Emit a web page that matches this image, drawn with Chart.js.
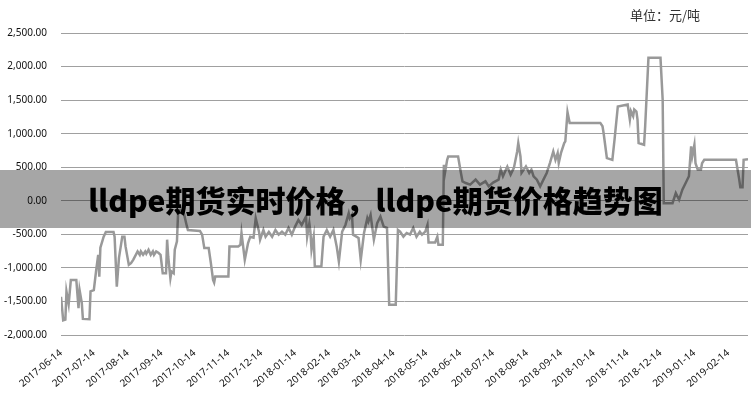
<!DOCTYPE html>
<html>
<head>
<meta charset="utf-8">
<script src="https://cdn.jsdelivr.net/npm/chart.js@4/dist/chart.umd.min.js"></script>
<style>
  body { margin: 0; background: #fff; }
  #wrap { position: relative; width: 751px; height: 400px; }
  #unit { position: absolute; left: 630px; top: 5px; font: 13px "Noto Sans CJK SC", sans-serif; color: #333; }
  #banner {
    position: absolute; left: 0; top: 170px; width: 751px; height: 58px;
    background: rgba(0, 0, 0, 0.35);
    font: 900 30px "Noto Sans CJK SC", sans-serif; color: #000;
    text-align: center; line-height: 58px;
  }
</style>
</head>
<body>
<div id="wrap">
  <canvas id="priceChart" width="751" height="400"></canvas>
  <div id="unit">单位：元/吨</div>
  <div id="banner">lldpe期货实时价格，lldpe期货价格趋势图</div>
</div>
<script>
// 日期 / 价差（元/吨）
const dates = [
  '2017-06-14','2017-06-16','2017-06-18','2017-06-19','2017-06-21','2017-06-23','2017-06-28','2017-06-30',
  '2017-07-01','2017-07-03','2017-07-04','2017-07-10','2017-07-11','2017-07-14','2017-07-16','2017-07-18',
  '2017-07-19','2017-07-20','2017-07-23','2017-07-25','2017-08-01','2017-08-02','2017-08-04','2017-08-06',
  '2017-08-09','2017-08-11','2017-08-12','2017-08-15','2017-08-17','2017-08-19','2017-08-23','2017-08-25',
  '2017-08-26','2017-08-28','2017-08-30','2017-08-31','2017-09-02','2017-09-04','2017-09-06','2017-09-07',
  '2017-09-09','2017-09-11','2017-09-13','2017-09-15','2017-09-18','2017-09-19','2017-09-20','2017-09-22',
  '2017-09-23','2017-09-25','2017-09-26','2017-09-28','2017-09-29','2017-10-01','2017-10-04','2017-10-07',
  '2017-10-08','2017-10-19','2017-10-21','2017-10-23','2017-10-27','2017-10-29','2017-10-31','2017-11-01',
  '2017-11-02','2017-11-14','2017-11-15','2017-11-23','2017-11-25','2017-11-26','2017-11-29','2017-12-02',
  '2017-12-04','2017-12-07','2017-12-09','2017-12-12','2017-12-13','2017-12-16','2017-12-18','2017-12-21',
  '2017-12-24','2017-12-27','2017-12-30','2018-01-02','2018-01-05','2018-01-08','2018-01-11','2018-01-14',
  '2018-01-17','2018-01-20','2018-01-24','2018-01-25','2018-01-27','2018-01-28','2018-01-29','2018-01-31',
  '2018-02-01','2018-02-07','2018-02-09','2018-02-12','2018-02-15','2018-02-18','2018-02-21','2018-02-23',
  '2018-02-26','2018-03-01','2018-03-04','2018-03-05','2018-03-07','2018-03-08','2018-03-13','2018-03-15',
  '2018-03-18','2018-03-21','2018-03-22','2018-03-24','2018-03-27','2018-03-30','2018-04-02','2018-04-05',
  '2018-04-08','2018-04-10','2018-04-16','2018-04-18','2018-04-20','2018-04-23','2018-04-26','2018-04-29',
  '2018-05-02','2018-05-05','2018-05-08','2018-05-10','2018-05-13','2018-05-15','2018-05-16','2018-05-22',
  '2018-05-24','2018-05-25','2018-05-29','2018-05-30','2018-05-31','2018-06-02','2018-06-03','2018-06-12',
  '2018-06-14','2018-06-16','2018-06-19','2018-06-23','2018-06-28','2018-07-02','2018-07-07','2018-07-10',
  '2018-07-14','2018-07-19','2018-07-21','2018-07-23','2018-07-27','2018-07-30','2018-08-02','2018-08-05',
  '2018-08-06','2018-08-08','2018-08-09','2018-08-13','2018-08-16','2018-08-18','2018-08-20','2018-08-23',
  '2018-08-26','2018-08-29','2018-09-01','2018-09-04','2018-09-07','2018-09-09','2018-09-11','2018-09-12',
  '2018-09-14','2018-09-17','2018-09-18','2018-09-20','2018-09-22','2018-10-20','2018-10-22','2018-10-23',
  '2018-10-25','2018-10-26','2018-10-31','2018-11-02','2018-11-05','2018-11-14','2018-11-16','2018-11-17',
  '2018-11-19','2018-11-20','2018-11-22','2018-11-23','2018-11-24','2018-11-29','2018-11-30','2018-12-03',
  '2018-12-14','2018-12-16','2018-12-17','2018-12-25','2018-12-28','2018-12-31','2019-01-03','2019-01-06',
  '2019-01-09','2019-01-11','2019-01-12','2019-01-14','2019-01-15','2019-01-17','2019-01-20','2019-01-21',
  '2019-01-23','2019-02-21','2019-02-22','2019-02-24','2019-02-25','2019-02-27','2019-02-28','2019-03-04'
];
const spread = [
  -1430,-1780,-1770,-1350,-1540,-1180,-1180,-1600,
  -1330,-1520,-1760,-1765,-1350,-1330,-1055,-805,
  -1130,-700,-535,-465,-465,-535,-1280,-850,
  -535,-535,-680,-955,-930,-880,-755,-805,
  -755,-805,-755,-790,-730,-805,-755,-805,
  -755,-775,-805,-1080,-1080,-580,-830,-1155,
  -1055,-1080,-730,-605,-185,-135,-165,-375,
  -435,-450,-505,-705,-705,-930,-1180,-1220,
  -1130,-1130,-680,-680,-655,-480,-880,-630,
  -535,-550,-260,-460,-580,-435,-535,-465,
  -535,-435,-505,-460,-505,-405,-505,-385,
  -285,-360,-235,-535,-335,-460,-730,-535,
  -980,-980,-535,-435,-535,-435,-680,-905,
  -460,-360,-185,-260,-210,-505,-555,-880,
  -480,-260,-310,-210,-580,-335,-235,-385,
  -405,-1550,-1550,-435,-460,-535,-480,-505,
  -405,-535,-460,-505,-460,-360,-620,-620,
  -535,-655,-655,535,415,610,660,660,
  465,290,265,240,315,240,290,215,
  270,315,465,365,510,390,490,735,
  860,660,415,510,415,465,365,315,
  215,315,415,565,735,610,710,565,
  710,860,885,1320,1160,1160,1110,1010,
  760,635,610,910,1405,1435,1210,1335,
  1260,1360,1330,1210,860,835,1110,2130,
  2130,1505,-35,-35,115,15,165,265,
  365,810,660,835,560,465,465,560,
  610,610,510,315,200,200,610,620
];
const tickDates = [
  '2017-06-14','2017-07-14','2017-08-14','2017-09-14','2017-10-14','2017-11-14','2017-12-14',
  '2018-01-14','2018-02-14','2018-03-14','2018-04-14','2018-05-14','2018-06-14','2018-07-14',
  '2018-08-14','2018-09-14','2018-10-14','2018-11-14','2018-12-14','2019-01-14','2019-02-14'
];
const yMin = -2000, yMax = 2500, yStep = 500;

new Chart(document.getElementById('priceChart'), {
    type: 'line',
    data: {
        datasets: [{
            data: dates.map((d, i) => ({ x: Date.parse(d), y: spread[i] })),
            borderColor: '#999999',
            borderWidth: 2.5,
            pointRadius: 0,
            tension: 0,
            fill: false
        }]
    },
    options: {
        responsive: false,
        animation: false,
        layout: { padding: { top: 33, right: 3, left: 0, bottom: 0 } },
        plugins: { legend: { display: false }, tooltip: { enabled: false } },
        scales: {
            x: {
                type: 'linear',
                min: Date.parse(dates[0]),
                max: Date.parse(dates[dates.length - 1]),
                afterBuildTicks: axis => {
                    axis.ticks = tickDates.map(d => ({ value: Date.parse(d) }));
                },
                afterFit: axis => { axis.height = 65; },
                grid: { display: false },
                border: { display: false },
                ticks: {
                    autoSkip: false,
                    maxRotation: 40,
                    minRotation: 40,
                    padding: 4,
                    color: '#111',
                    font: { family: '"Noto Sans", sans-serif', size: 10 },
                    callback: v => new Date(v).toISOString().slice(0, 10)
                }
            },
            y: {
                min: yMin,
                max: yMax,
                afterFit: axis => { axis.width = 61; },
                grid: { color: '#a0a0a0', lineWidth: 1, drawTicks: false },
                border: { display: false },
                ticks: {
                    stepSize: yStep,
                    padding: 14,
                    color: '#111',
                    font: { family: '"Noto Sans", sans-serif', size: 10 },
                    callback: v => v.toLocaleString('en-US', { minimumFractionDigits: 2, maximumFractionDigits: 2 })
                }
            }
        }
    }
});
</script>
</body>
</html>
